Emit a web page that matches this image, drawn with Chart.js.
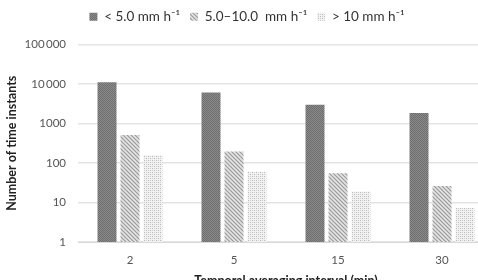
<!DOCTYPE html>
<html>
<head>
<meta charset="utf-8">
<script src="https://cdn.jsdelivr.net/npm/chart.js@4"></script>
<style>
  html, body { margin: 0; padding: 0; background: #fff; overflow: hidden; width: 478px; height: 280px; }
</style>
</head>
<body>
<canvas id="chart" width="500" height="292"></canvas>
<script>
// data
var intervals = ['2', '5', '15', '30'];
var seriesNames = ['< 5.0 mm h\u207B\u00B9', '5.0\u201310.0  mm h\u207B\u00B9', '> 10 mm h\u207B\u00B9'];
var lowRain = [11000, 6050, 2990, 1840];
var midRain = [510, 195, 55, 26];
var highRain = [158, 60, 19, 7.3];
var yTicks = [1, 10, 100, 1000, 10000, 100000];

// small fill patterns like the printed figure
function makePattern(kind) {
    var c = document.createElement('canvas');
    c.width = 4; c.height = 4;
    var g = c.getContext('2d');
    if (kind === 'dark') {
        g.fillStyle = '#8a8a8a'; g.fillRect(0, 0, 4, 4);
        g.fillStyle = '#6e6e6e';
        g.fillRect(0, 0, 1, 1); g.fillRect(2, 0, 1, 1); g.fillRect(1, 1, 1, 1); g.fillRect(3, 1, 1, 1);
        g.fillRect(0, 2, 1, 1); g.fillRect(2, 2, 1, 1); g.fillRect(1, 3, 1, 1); g.fillRect(3, 3, 1, 1);
    } else if (kind === 'mid') {
        g.fillStyle = '#cdcdcd'; g.fillRect(0, 0, 4, 4);
        g.fillStyle = '#9c9c9c';
        for (var i = 0; i < 4; i++) { g.fillRect(i, i, 1, 1); }
        g.fillStyle = '#e4e4e4';
        for (var j = 0; j < 4; j++) { g.fillRect((j + 2) % 4, j, 1, 1); }
    } else {
        g.fillStyle = '#f2f2f2'; g.fillRect(0, 0, 4, 4);
        g.fillStyle = '#b8b8b8';
        g.fillRect(0, 0, 1, 1); g.fillRect(2, 2, 1, 1);
        g.fillStyle = '#d2d2d2';
        g.fillRect(2, 0, 1, 1); g.fillRect(0, 2, 1, 1);
    }
    return g.createPattern(c, 'repeat');
}

var fills = [makePattern('dark'), makePattern('mid'), makePattern('light')];
var values = [lowRain, midRain, highRain];

var chartData = {
    labels: intervals,
    datasets: seriesNames.map(function (name, i) {
        return {
            label: name,
            data: values[i],
            backgroundColor: fills[i],
            borderWidth: 0,
            categoryPercentage: 0.663,
            barPercentage: 0.826
        };
    })
};

function formatTick(v) {
    if (v >= 10000) {
        return String(v).replace(/\B(?=(\d{3})+(?!\d))/g, '\u2009');
    }
    return String(v);
}

// keep the legend high but leave room under it
var legendGap = {
    id: 'legendGap',
    afterInit: function (chart) {
        var fit = chart.legend.fit;
        chart.legend.fit = function () {
            fit.call(this);
            this.height += 11;
        };
    }
};

Chart.defaults.font.family = 'Lato, "Open Sans", sans-serif';
Chart.defaults.color = '#404040';

var ctx = document.getElementById('chart').getContext('2d');
var chart = new Chart(ctx, {
    type: 'bar',
    data: chartData,
    plugins: [legendGap],
    options: {
        responsive: false,
        animation: false,
        layout: { padding: { left: 0, right: 6, top: 0, bottom: 0 } },
        plugins: {
            legend: {
                position: 'top',
                labels: {
                    boxWidth: 8,
                    boxHeight: 8,
                    padding: 10,
                    font: { size: 13.5 },
                    color: '#333'
                }
            },
            tooltip: { enabled: false }
        },
        scales: {
            x: {
                grid: { display: false },
                border: { display: true, color: '#d9d9d9' },
                ticks: { font: { size: 11.5 }, color: '#555', padding: 3 },
                title: {
                    display: true,
                    text: 'Temporal averaging interval (min)',
                    font: { size: 12.5, weight: 'bold' },
                    color: '#222',
                    padding: { top: 12 }
                },
                afterFit: function (scale) { scale.height = 50; }
            },
            y: {
                type: 'logarithmic',
                min: 1,
                max: 100000,
                afterBuildTicks: function (scale) {
                    scale.ticks = yTicks.map(function (v) { return { value: v }; });
                },
                grid: { color: '#e4e4e4', drawTicks: false, lineWidth: 1.5 },
                border: { display: false },
                ticks: {
                    font: { size: 11.5 },
                    color: '#555',
                    padding: 12,
                    callback: function (v) { return formatTick(v); }
                },
                title: {
                    display: true,
                    text: 'Number of time instants',
                    font: { size: 12.5, weight: 'bold' },
                    color: '#222',
                    padding: { bottom: 2 }
                },
                afterFit: function (scale) { scale.width = 78; }
            }
        }
    }
});
</script>
</body>
</html>
